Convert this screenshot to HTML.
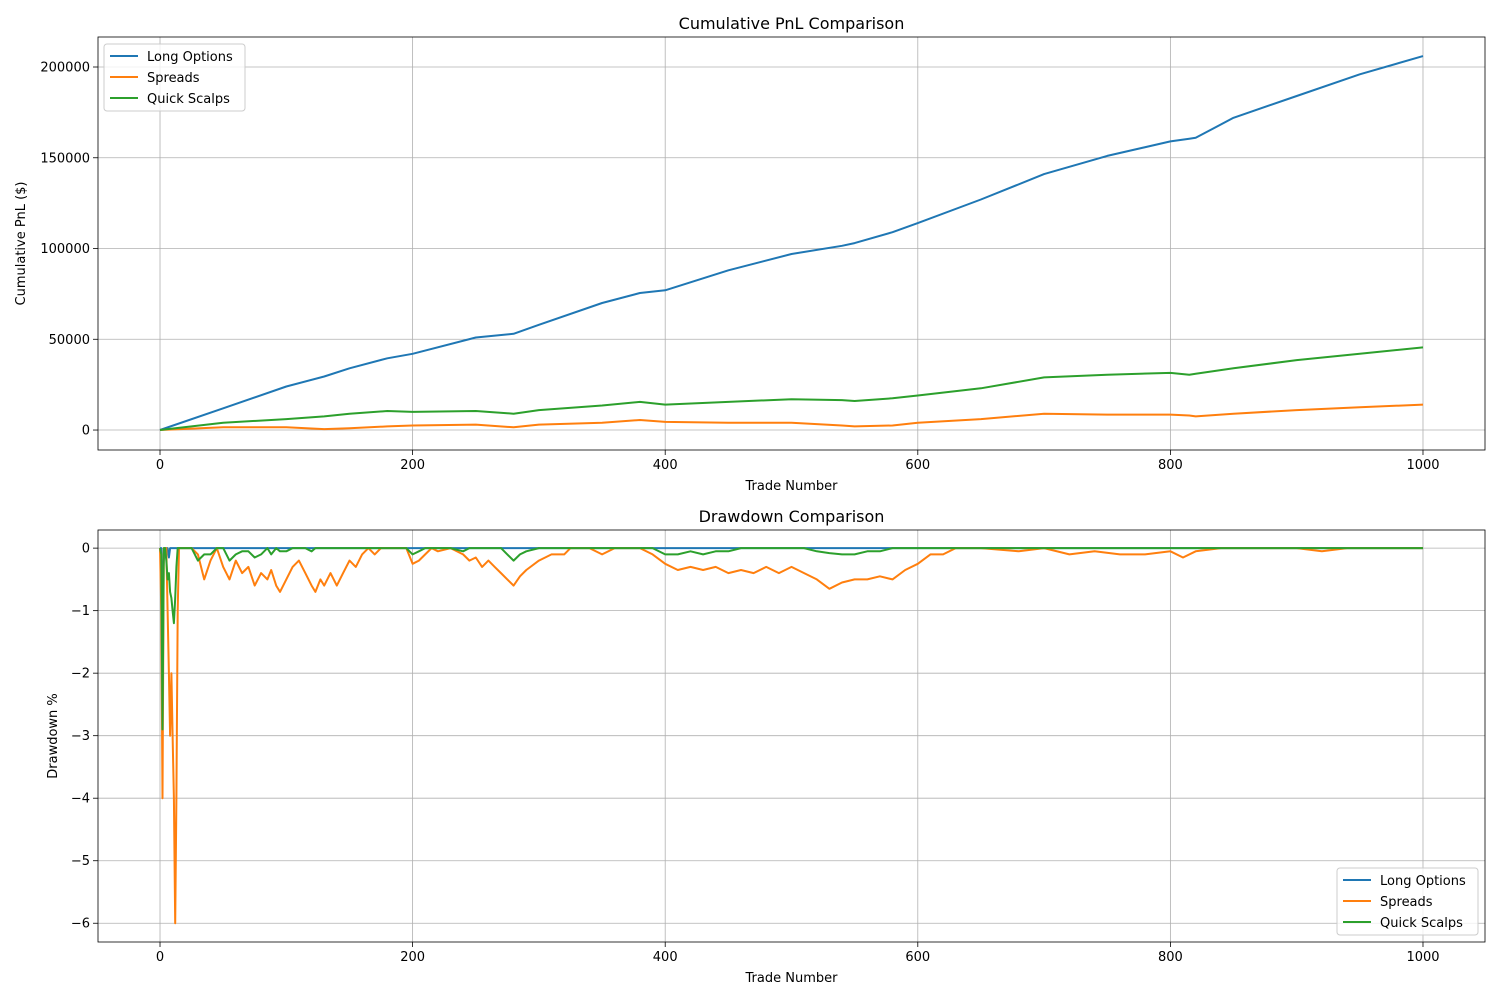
<!DOCTYPE html>
<html><head><meta charset="utf-8"><style>
body{margin:0;background:#fff}
svg{display:block;font-family:"DejaVu Sans","Liberation Sans",sans-serif}
</style></head><body>
<svg id="fig" width="1500" height="1000" viewBox="0 0 1500 1000"></svg>
<script>
// ---- data ----
const cumX = [0,50,100,130,150,180,200,250,280,300,350,380,400,450,500,540,550,580,600,650,700,750,800,815,820,850,900,950,1000];
const cumLong = [0,12000,24000,29500,34000,39500,42000,51000,53000,58000,70000,75500,77000,88000,97000,101500,103000,109000,114000,127000,141000,151000,159000,160500,161000,172000,184000,196000,206000];
const cumSpreads = [0,1500,1500,500,1000,2000,2500,3000,1500,3000,4000,5500,4500,4000,4000,2500,2000,2500,4000,6000,9000,8500,8500,8000,7500,9000,11000,12500,14000];
const cumScalps = [0,4000,6000,7500,9000,10500,10000,10500,9000,11000,13500,15500,14000,15500,17000,16500,16000,17500,19000,23000,29000,30500,31500,30500,31000,34000,38500,42000,45500];

const ddX = [0,1,2,3,4,5,6,7,8,9,10,11,12,13,14,15,16,20,25,30,35,40,45,50,55,60,65,70,75,80,85,88,92,95,100,105,110,115,120,123,127,130,135,140,145,150,155,160,165,170,175,195,200,205,210,215,220,230,240,245,250,255,260,265,270,275,280,285,290,300,310,320,325,340,350,360,380,390,400,410,420,430,440,450,460,470,480,490,500,510,520,530,540,550,560,570,580,590,600,610,620,630,650,680,700,720,740,760,780,800,810,820,840,900,920,940,1000];
const ddSpreads = [0,-1,-4,0,0,0,-1,-2,-3,-2,-3,-4,-6,-4,-1,0,0,0,0,-0.1,-0.5,-0.2,0,-0.3,-0.5,-0.2,-0.4,-0.3,-0.6,-0.4,-0.5,-0.35,-0.6,-0.7,-0.5,-0.3,-0.2,-0.4,-0.6,-0.7,-0.5,-0.6,-0.4,-0.6,-0.4,-0.2,-0.3,-0.1,0,-0.1,0,0,-0.25,-0.2,-0.1,0,-0.05,0,-0.1,-0.2,-0.15,-0.3,-0.2,-0.3,-0.4,-0.5,-0.6,-0.45,-0.35,-0.2,-0.1,-0.1,0,0,-0.1,0,0,-0.1,-0.25,-0.35,-0.3,-0.35,-0.3,-0.4,-0.35,-0.4,-0.3,-0.4,-0.3,-0.4,-0.5,-0.65,-0.55,-0.5,-0.5,-0.45,-0.5,-0.35,-0.25,-0.1,-0.1,0,0,-0.05,0,-0.1,-0.05,-0.1,-0.1,-0.05,-0.15,-0.05,0,0,-0.05,0,0];
const ddScalps = [0,-0.1,-2.9,0,0,-0.2,-0.5,-0.4,-0.7,-0.8,-1.0,-1.2,-0.8,-0.3,0,0,0,0,0,-0.2,-0.1,-0.1,0,0,-0.2,-0.1,-0.05,-0.05,-0.15,-0.1,0,-0.1,0,-0.05,-0.05,0,0,0,-0.05,0,0,0,0,0,0,0,0,0,0,0,0,0,-0.1,-0.05,0,0,0,0,-0.05,0,0,0,0,0,0,-0.1,-0.2,-0.1,-0.05,0,0,0,0,0,0,0,0,0,-0.1,-0.1,-0.05,-0.1,-0.05,-0.05,0,0,0,0,0,0,-0.05,-0.08,-0.1,-0.1,-0.05,-0.05,0,0,0,0,0,0,0,0,0,0,0,0,0,0,0,0,0,0,0,0,0];
const ddLong = [0,0,-0.6,-0.2,0,0,0,-0.15,0,0,0,0,0,0,0,0,0,0,0,0,0,0,0,0,0,0,0,0,0,0,0,0,0,0,0,0,0,0,0,0,0,0,0,0,0,0,0,0,0,0,0,0,0,0,0,0,0,0,0,0,0,0,0,0,0,0,0,0,0,0,0,0,0,0,0,0,0,0,0,0,0,0,0,0,0,0,0,0,0,0,0,0,0,0,0,0,0,0,0,0,0,0,0,0,0,0,0,0,0,0,0,0,0,0,0,0,0];

const xTicks = [0,200,400,600,800,1000];
const cumTicks = [0,50000,100000,150000,200000];
const ddTicks = [0,-1,-2,-3,-4,-5,-6];
const seriesNames = ["Long Options","Spreads","Quick Scalps"];
const colors = ["#1f77b4","#ff7f0e","#2ca02c"];

const NS="http://www.w3.org/2000/svg";
const svg=document.getElementById('fig');
function mk(tag,attrs,parent,text){const e=document.createElementNS(NS,tag);for(const k in attrs)e.setAttribute(k,attrs[k]);if(text!==undefined)e.textContent=text;(parent||svg).appendChild(e);return e;}

function panel(cfg){
  const {L,R,T,B,ymin,ymax,yTicks,title,ylabel,series,legendPos,name}=cfg;
  const xmin=-49.1,xmax=1049.1;
  const sx=v=>L+(v-xmin)/(xmax-xmin)*(R-L);
  const sy=v=>B-(v-ymin)/(ymax-ymin)*(B-T);
  const g=mk('g',{});
  
  
  xTicks.forEach(t=>{
    const l=mk('line',{x1:sx(t),x2:sx(t),y1:T,y2:B,stroke:'#b0b0b0','stroke-width':0.8},g);
    
    mk('line',{x1:sx(t),x2:sx(t),y1:B,y2:B+5,stroke:'#000','stroke-width':0.8},g);
    const tx=mk('text',{x:sx(t),y:B+19,'text-anchor':'middle','font-size':13},g,String(t));
    
  });
  yTicks.forEach(t=>{
    const l=mk('line',{x1:L,x2:R,y1:sy(t),y2:sy(t),stroke:'#b0b0b0','stroke-width':0.8},g);
    
    mk('line',{x1:L-5,x2:L,y1:sy(t),y2:sy(t),stroke:'#000','stroke-width':0.8},g);
    const lab=t<0?'\u2212'+Math.abs(t):String(t);
    const tx=mk('text',{x:L-8,y:sy(t)+4.5,'text-anchor':'end','font-size':13},g,lab);
    
  });
  series.forEach((s,i)=>{
    const d=s.x.map((v,j)=>(j?'L':'M')+sx(v).toFixed(1)+','+sy(s.y[j]).toFixed(1)).join('');
    const p=mk('path',{d:d,fill:'none',stroke:colors[s.c],'stroke-width':2,'stroke-linejoin':'round'},g);
    
    
  });
  const fr=mk('rect',{x:L,y:T,width:R-L,height:B-T,fill:'none',stroke:'#000','stroke-width':0.8},g);
  
  const ti=mk('text',{x:(L+R)/2,y:T-8,'text-anchor':'middle','font-size':16},g,title);
  
  const xl=mk('text',{x:(L+R)/2,y:B+40,'text-anchor':'middle','font-size':13},g,'Trade Number');
  
  const yl=mk('text',{x:0,y:0,'text-anchor':'middle','font-size':13,transform:`translate(${cfg.ylx},${(T+B)/2}) rotate(-90)`},g,ylabel);
  
  // legend
  const lg=mk('g',{},g);
  
  const [lx,ly]=legendPos;
  mk('rect',{x:lx,y:ly,width:141,height:67,rx:3,fill:'#fff','fill-opacity':0.8,stroke:'#ccc'},lg);
  seriesNames.forEach((n,i)=>{
    const yy=ly+12+i*21;
    mk('line',{x1:lx+6,x2:lx+34,y1:yy,y2:yy,stroke:colors[i],'stroke-width':2},lg);
    const t=mk('text',{x:lx+43,y:yy+5,'font-size':13},lg,n);
    
  });
}

panel({name:'cumulative-pnl-chart',L:98,R:1485,T:37,B:450,ymin:-11000,ymax:216529,yTicks:cumTicks,
  title:'Cumulative PnL Comparison',ylabel:'Cumulative PnL ($)',ylx:25,legendPos:[104,44],
  series:[{x:cumX,y:cumLong,c:0},{x:cumX,y:cumSpreads,c:1},{x:cumX,y:cumScalps,c:2}]});
panel({name:'drawdown-chart',L:98,R:1485,T:530,B:942,ymin:-6.3,ymax:0.29,yTicks:ddTicks,
  title:'Drawdown Comparison',ylabel:'Drawdown %',ylx:57,legendPos:[1337,868],
  series:[{x:ddX,y:ddLong,c:0},{x:ddX,y:ddSpreads,c:1},{x:ddX,y:ddScalps,c:2}]});
</script>
</body></html>
